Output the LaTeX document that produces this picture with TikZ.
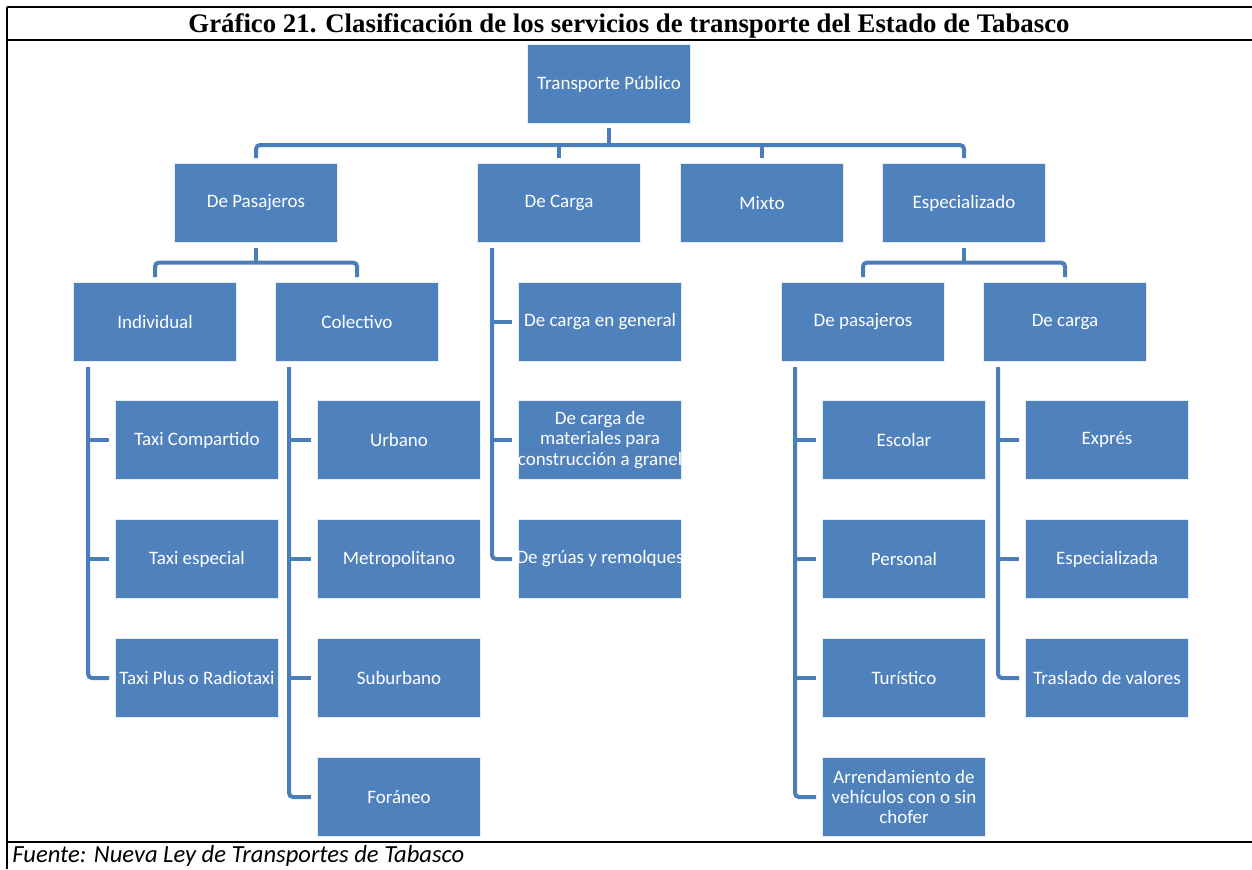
\documentclass[tikz,border=0pt]{standalone}
\usepackage{fontspec}
\setmainfont{Carlito}
\newfontfamily\titlefont{Liberation Serif}
\usetikzlibrary{calc}
\definecolor{boxblue}{HTML}{4F81BD}
\definecolor{linkblue}{HTML}{4A7EBB}
\definecolor{boxedge}{HTML}{E4ECF6}
\begin{document}
\begin{tikzpicture}[x=0.5pt,y=-0.5pt,
  box/.style={fill=boxblue, draw=boxedge, line width=0.5pt, minimum width=81.5pt, minimum height=39.5pt,
    inner sep=0pt, text=white, font=\fontsize{9.5}{10.2}\selectfont, align=center},
  conn/.style={draw=linkblue, line width=2pt, rounded corners=2pt},
  frameline/.style={line width=1pt, draw=black}]
\useasboundingbox (0,0) rectangle (1252,869);
% frame
\draw[frameline] (7,7) -- (1252,7);
\draw[frameline] (7,40) -- (1252,40);
\draw[frameline] (7,842) -- (1252,842);
\draw[frameline] (7,7) -- (7,869);
\node[font=\titlefont\bfseries\fontsize{13.4}{15}\selectfont, inner sep=0pt] (title) at (629,26)
  {Gráfico 21. Clasificación de los servicios de transporte del Estado de Tabasco};
\node[anchor=base west, font=\itshape\fontsize{12.3}{14}\selectfont, inner sep=0pt] (src) at (12,862)
  {Fuente: Nueva Ley de Transportes de Tabasco};
% boxes
\node[box] (tp) at (609,84) {Transporte Público};
\node[box] (pas) at (256,203) {De Pasajeros};
\node[box] (car) at (559,203) {De Carga};
\node[box] (mix) at (762,203) {Mixto};
\node[box] (esp) at (964,203) {Especializado};
\node[box] (ind) at (155,322) {Individual};
\node[box] (col) at (357,322) {Colectivo};
\node[box] (cg1) at (600,322) {De carga en general};
\node[box] (ep) at (863,322) {De pasajeros};
\node[box] (ec) at (1065,322) {De carga};
\node[box] (i1) at (197,440) {Taxi Compartido};
\node[box] (i2) at (197,559) {Taxi especial};
\node[box] (i3) at (197,678) {Taxi Plus o Radiotaxi};
\node[box] (c1) at (399,440) {Urbano};
\node[box] (c2) at (399,559) {Metropolitano};
\node[box] (c3) at (399,678) {Suburbano};
\node[box] (c4) at (399,797) {Foráneo};
\node[box] (cg2) at (600,440) {De carga de\\materiales para\\\makebox[74pt]{construcción a granel}};
\node[box] (cg3) at (600,559) {\makebox[74pt]{De grúas y remolques}};
\node[box] (p1) at (904,440) {Escolar};
\node[box] (p2) at (904,559) {Personal};
\node[box] (p3) at (904,678) {Turístico};
\node[box] (p4) at (904,797) {Arrendamiento de\\vehículos con o sin\\chofer};
\node[box] (e1) at (1107,440) {Exprés};
\node[box] (e2) at (1107,559) {Especializada};
\node[box] (e3) at (1107,678) {Traslado de valores};
% top bus
\coordinate (b0) at ($(tp.south)+(0,21)$);
\draw[conn] ([yshift=-2pt]tp.south) -- (b0);
\draw[conn] ([yshift=2.5pt]pas.north) -- (pas.north |- b0) -- (esp.north |- b0) -- ([yshift=2.5pt]esp.north);
\draw[conn] ([yshift=2.5pt]car.north) -- (car.north |- b0);
\draw[conn] ([yshift=2.5pt]mix.north) -- (mix.north |- b0);
% pasajeros bus
\coordinate (b1) at ($(pas.south)+(0,19.5)$);
\draw[conn] ([yshift=-2.5pt]pas.south) -- (b1);
\draw[conn] ([yshift=2.5pt]ind.north) -- (ind.north |- b1) -- (col.north |- b1) -- ([yshift=2.5pt]col.north);
% especializado bus
\coordinate (b2) at ($(esp.south)+(0,19.5)$);
\draw[conn] ([yshift=-2.5pt]esp.south) -- (b2);
\draw[conn] ([yshift=2.5pt]ep.north) -- (ep.north |- b2) -- (ec.north |- b2) -- ([yshift=2.5pt]ec.north);
% individual
\coordinate (iv) at ([xshift=7.5pt,yshift=-2.5pt]ind.south west);
\draw[conn] (iv) |- ([xshift=-3pt]i3.west);
\draw[conn] (iv |- i1.west) -- ([xshift=-3pt]i1.west);
\draw[conn] (iv |- i2.west) -- ([xshift=-3pt]i2.west);
% colectivo
\coordinate (cv) at ([xshift=7pt,yshift=-2.5pt]col.south west);
\draw[conn] (cv) |- ([xshift=-3pt]c4.west);
\draw[conn] (cv |- c1.west) -- ([xshift=-3pt]c1.west);
\draw[conn] (cv |- c2.west) -- ([xshift=-3pt]c2.west);
\draw[conn] (cv |- c3.west) -- ([xshift=-3pt]c3.west);
% carga
\coordinate (gv) at ([xshift=7.5pt,yshift=-2.5pt]car.south west);
\draw[conn] (gv) |- ([xshift=-3pt]cg3.west);
\draw[conn] (gv |- cg1.west) -- ([xshift=-3pt]cg1.west);
\draw[conn] (gv |- cg2.west) -- ([xshift=-3pt]cg2.west);
% especializado pasajeros
\coordinate (pv) at ([xshift=7pt,yshift=-2.5pt]ep.south west);
\draw[conn] (pv) |- ([xshift=-3pt]p4.west);
\draw[conn] (pv |- p1.west) -- ([xshift=-3pt]p1.west);
\draw[conn] (pv |- p2.west) -- ([xshift=-3pt]p2.west);
\draw[conn] (pv |- p3.west) -- ([xshift=-3pt]p3.west);
% especializado carga
\coordinate (ev) at ([xshift=7.5pt,yshift=-2.5pt]ec.south west);
\draw[conn] (ev) |- ([xshift=-3pt]e3.west);
\draw[conn] (ev |- e1.west) -- ([xshift=-3pt]e1.west);
\draw[conn] (ev |- e2.west) -- ([xshift=-3pt]e2.west);
\end{tikzpicture}
\end{document}
